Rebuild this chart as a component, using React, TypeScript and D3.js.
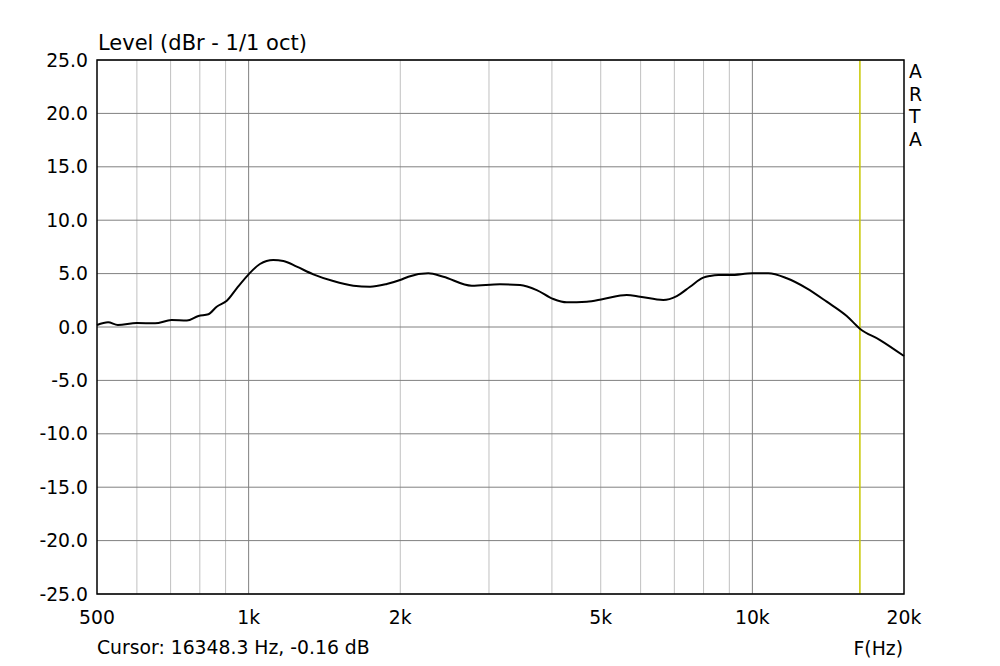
import React from "react";
import * as d3 from "d3";

const freqs = [500, 526, 550, 600, 652, 703, 754, 795, 832, 864, 905, 947, 1000, 1053, 1119, 1172, 1246, 1344, 1472, 1614, 1742, 1880, 1998, 2075, 2274, 2435, 2773, 3155, 3458, 3732, 4026, 4280, 4691, 5060, 5630, 5985, 6655, 7078, 7522, 7991, 8241, 8561, 9029, 10000, 10757, 11703, 12822, 14049, 15393, 16348, 17926, 20000];
const levels = [0.19, 0.44, 0.19, 0.37, 0.34, 0.65, 0.6, 1.03, 1.19, 1.9, 2.46, 3.62, 4.93, 5.9, 6.27, 6.18, 5.65, 4.93, 4.3, 3.87, 3.77, 4.03, 4.4, 4.71, 5.03, 4.71, 3.87, 4.0, 3.93, 3.46, 2.62, 2.31, 2.37, 2.62, 3.0, 2.84, 2.53, 2.9, 3.77, 4.62, 4.78, 4.87, 4.87, 5.03, 5.03, 4.56, 3.62, 2.37, 1.03, -0.16, -1.22, -2.72];

const yTicks = [25, 20, 15, 10, 5, 0, -5, -10, -15, -20, -25];
const xTickLabels: [number, string][] = [[500, "500"], [1000, "1k"], [2000, "2k"], [5000, "5k"], [10000, "10k"], [20000, "20k"]];
const minorFreqs = [600, 700, 800, 900, 2000, 3000, 4000, 5000, 6000, 7000, 8000, 9000];
const majorFreqs = [1000, 10000];
const cursorFreq = 16348.3;

export default function App() {
  const W = 1000, H = 666;
  const L = 97, R = 904, T = 60, B = 594;
  const x = d3.scaleLog().domain([500, 20000]).range([L, R]);
  const y = d3.scaleLinear().domain([-25, 25]).range([B, T]);
  const line = d3.line<number>().x((_, i) => x(freqs[i])).y((d) => y(d)).curve(d3.curveMonotoneX);
  const font = "'DejaVu Sans', sans-serif";
  const fs = 18.8;
  return (
    <svg width={W} height={H} style={{ position: "absolute", left: 0, top: 0, background: "#fff" }} fontFamily={font}>
      <rect x={0} y={0} width={W} height={H} fill="#fff" />
      {minorFreqs.map((f) => (
        <line key={"m" + f} x1={x(f)} x2={x(f)} y1={T} y2={B} stroke="#c0c0c0" strokeWidth={1} />
      ))}
      {yTicks.map((v) => (
        <line key={"h" + v} x1={L} x2={R} y1={y(v)} y2={y(v)} stroke="#808080" strokeWidth={1} />
      ))}
      {majorFreqs.map((f) => (
        <line key={"M" + f} x1={x(f)} x2={x(f)} y1={T} y2={B} stroke="#808080" strokeWidth={1} />
      ))}
      <line x1={x(cursorFreq)} x2={x(cursorFreq)} y1={T} y2={B} stroke="#c8c800" strokeWidth={1.5} />
      <path d={line(levels) || ""} fill="none" stroke="#000" strokeWidth={2} />
      <rect x={L} y={T} width={R - L} height={B - T} fill="none" stroke="#000" strokeWidth={1.5} />
      {yTicks.map((v) => (
        <text key={"yt" + v} x={88} y={y(v) + 6.5} textAnchor="end" fontSize={fs} fill="#000">{v.toFixed(1)}</text>
      ))}
      {xTickLabels.map(([f, s]) => (
        <text key={"xt" + f} x={x(f)} y={624} textAnchor="middle" fontSize={fs} fill="#000">{s}</text>
      ))}
      <text x={98} y={49.5} fontSize={21} fill="#000">Level (dBr - 1/1 oct)</text>
      <text x={97} y={654} fontSize={fs} fill="#000">Cursor: 16348.3 Hz, -0.16 dB</text>
      <text x={903} y={655} textAnchor="end" fontSize={fs} fill="#000">F(Hz)</text>
      {["A", "R", "T", "A"].map((c, i) => (
        <text key={"a" + i} x={909} y={78 + i * 22.5} fontSize={fs} fill="#000">{c}</text>
      ))}
    </svg>
  );
}
